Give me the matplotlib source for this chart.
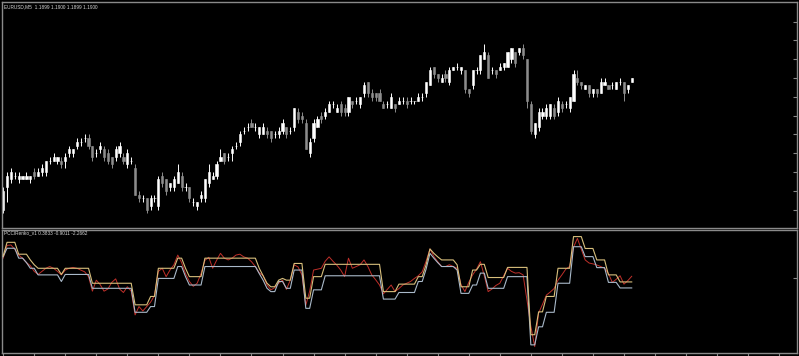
import numpy as np
import matplotlib

matplotlib.use("Agg")

import matplotlib.pyplot as plt

# EURUSD M5, 163 bars, 4-digit quotes
opens = [
    1.1865, 1.1871, 1.1873, 1.1874, 1.1873, 1.1873, 1.1873, 1.1873, 1.1875, 1.1874,
    1.1875, 1.1875, 1.1878, 1.1878, 1.1878, 1.1878, 1.1878, 1.1880, 1.1880, 1.1882,
    1.1883, 1.1884, 1.1884, 1.1882, 1.1880, 1.1881, 1.1881, 1.1880, 1.1879, 1.1879,
    1.1880, 1.1879, 1.1877, 1.1878, 1.1876, 1.1869, 1.1868, 1.1868, 1.1866, 1.1868,
    1.1866, 1.1874, 1.1873, 1.1871, 1.1871, 1.1872, 1.1874, 1.1871, 1.1871, 1.1867,
    1.1866, 1.1868, 1.1868, 1.1872, 1.1873, 1.1874, 1.1878, 1.1880, 1.1879, 1.1880,
    1.1882, 1.1883, 1.1886, 1.1887, 1.1888, 1.1887, 1.1885, 1.1885, 1.1886, 1.1886,
    1.1885, 1.1885, 1.1886, 1.1887, 1.1886, 1.1887, 1.1891, 1.1890, 1.1888, 1.1880,
    1.1884, 1.1887, 1.1890, 1.1890, 1.1891, 1.1893, 1.1891, 1.1893, 1.1892, 1.1891,
    1.1894, 1.1894, 1.1893, 1.1896, 1.1899, 1.1896, 1.1896, 1.1896, 1.1893, 1.1893,
    1.1892, 1.1893, 1.1893, 1.1894, 1.1894, 1.1894, 1.1894, 1.1894, 1.1895, 1.1896,
    1.1898, 1.1903, 1.1901, 1.1899, 1.1901, 1.1899, 1.1902, 1.1903, 1.1902, 1.1902,
    1.1897, 1.1898, 1.1902, 1.1902, 1.1905, 1.1906, 1.1902, 1.1902, 1.1902, 1.1903,
    1.1903, 1.1905, 1.1907, 1.1907, 1.1908, 1.1905, 1.1893, 1.1885, 1.1887, 1.1890,
    1.1890, 1.1890, 1.1892, 1.1891, 1.1893, 1.1893, 1.1892, 1.1894, 1.1900, 1.1899,
    1.1897, 1.1898, 1.1896, 1.1897, 1.1896, 1.1898, 1.1898, 1.1898, 1.1897, 1.1899,
    1.1899, 1.1897, 1.1899,
]
highs = [
    1.1871, 1.1875, 1.1876, 1.1875, 1.1875, 1.1874, 1.1875, 1.1874, 1.1876, 1.1876,
    1.1877, 1.1878, 1.1879, 1.1880, 1.1879, 1.1879, 1.1880, 1.1882, 1.1881, 1.1884,
    1.1884, 1.1885, 1.1885, 1.1882, 1.1881, 1.1883, 1.1882, 1.1881, 1.1879, 1.1882,
    1.1883, 1.1880, 1.1881, 1.1879, 1.1877, 1.1870, 1.1869, 1.1868, 1.1869, 1.1869,
    1.1874, 1.1875, 1.1873, 1.1872, 1.1874, 1.1877, 1.1875, 1.1872, 1.1871, 1.1868,
    1.1867, 1.1870, 1.1873, 1.1877, 1.1875, 1.1878, 1.1881, 1.1880, 1.1880, 1.1882,
    1.1883, 1.1886, 1.1887, 1.1888, 1.1889, 1.1888, 1.1887, 1.1888, 1.1887, 1.1886,
    1.1886, 1.1887, 1.1889, 1.1887, 1.1887, 1.1892, 1.1892, 1.1891, 1.1889, 1.1884,
    1.1889, 1.1890, 1.1891, 1.1892, 1.1894, 1.1894, 1.1893, 1.1894, 1.1893, 1.1895,
    1.1894, 1.1895, 1.1895, 1.1899, 1.1899, 1.1897, 1.1896, 1.1897, 1.1894, 1.1894,
    1.1896, 1.1893, 1.1895, 1.1895, 1.1895, 1.1895, 1.1894, 1.1896, 1.1896, 1.1899,
    1.1903, 1.1903, 1.1901, 1.1901, 1.1902, 1.1903, 1.1903, 1.1904, 1.1903, 1.1902,
    1.1897, 1.1902, 1.1903, 1.1906, 1.1909, 1.1907, 1.1903, 1.1902, 1.1904, 1.1904,
    1.1907, 1.1908, 1.1907, 1.1908, 1.1909, 1.1905, 1.1894, 1.1888, 1.1892, 1.1892,
    1.1893, 1.1893, 1.1893, 1.1895, 1.1894, 1.1894, 1.1895, 1.1902, 1.1902, 1.1899,
    1.1898, 1.1898, 1.1897, 1.1897, 1.1900, 1.1900, 1.1898, 1.1899, 1.1899, 1.1900,
    1.1899, 1.1898, 1.1900,
]
lows = [
    1.1864, 1.1867, 1.1872, 1.1873, 1.1872, 1.1873, 1.1873, 1.1872, 1.1873, 1.1874,
    1.1874, 1.1874, 1.1877, 1.1878, 1.1877, 1.1876, 1.1876, 1.1879, 1.1879, 1.1881,
    1.1882, 1.1883, 1.1881, 1.1878, 1.1879, 1.1880, 1.1878, 1.1877, 1.1876, 1.1878,
    1.1879, 1.1877, 1.1876, 1.1877, 1.1869, 1.1867, 1.1867, 1.1864, 1.1865, 1.1867,
    1.1865, 1.1871, 1.1869, 1.1870, 1.1870, 1.1872, 1.1870, 1.1870, 1.1867, 1.1866,
    1.1865, 1.1867, 1.1867, 1.1871, 1.1873, 1.1873, 1.1878, 1.1877, 1.1878, 1.1878,
    1.1881, 1.1882, 1.1885, 1.1886, 1.1887, 1.1886, 1.1884, 1.1885, 1.1884, 1.1883,
    1.1884, 1.1884, 1.1885, 1.1884, 1.1885, 1.1886, 1.1888, 1.1888, 1.1881, 1.1879,
    1.1883, 1.1887, 1.1888, 1.1889, 1.1891, 1.1892, 1.1891, 1.1890, 1.1890, 1.1890,
    1.1892, 1.1893, 1.1892, 1.1895, 1.1895, 1.1894, 1.1894, 1.1894, 1.1892, 1.1892,
    1.1892, 1.1891, 1.1893, 1.1893, 1.1892, 1.1893, 1.1893, 1.1894, 1.1894, 1.1895,
    1.1898, 1.1900, 1.1899, 1.1899, 1.1899, 1.1898, 1.1902, 1.1902, 1.1901, 1.1896,
    1.1895, 1.1897, 1.1901, 1.1901, 1.1905, 1.1900, 1.1901, 1.1900, 1.1902, 1.1902,
    1.1903, 1.1904, 1.1903, 1.1906, 1.1905, 1.1892, 1.1885, 1.1884, 1.1886, 1.1889,
    1.1889, 1.1889, 1.1889, 1.1890, 1.1891, 1.1892, 1.1891, 1.1894, 1.1898, 1.1897,
    1.1897, 1.1895, 1.1895, 1.1895, 1.1896, 1.1898, 1.1897, 1.1897, 1.1897, 1.1898,
    1.1894, 1.1896, 1.1899,
]
closes = [
    1.1870, 1.1874, 1.1875, 1.1874, 1.1874, 1.1874, 1.1874, 1.1874, 1.1874, 1.1875,
    1.1876, 1.1878, 1.1878, 1.1879, 1.1879, 1.1877, 1.1879, 1.1881, 1.1881, 1.1883,
    1.1883, 1.1884, 1.1882, 1.1879, 1.1880, 1.1882, 1.1879, 1.1878, 1.1877, 1.1881,
    1.1882, 1.1878, 1.1880, 1.1878, 1.1869, 1.1868, 1.1868, 1.1865, 1.1868, 1.1868,
    1.1873, 1.1872, 1.1870, 1.1872, 1.1873, 1.1875, 1.1871, 1.1871, 1.1868, 1.1867,
    1.1867, 1.1869, 1.1873, 1.1875, 1.1874, 1.1877, 1.1879, 1.1878, 1.1879, 1.1881,
    1.1882, 1.1885, 1.1886, 1.1887, 1.1887, 1.1887, 1.1887, 1.1887, 1.1885, 1.1884,
    1.1885, 1.1886, 1.1888, 1.1885, 1.1886, 1.1892, 1.1889, 1.1889, 1.1881, 1.1883,
    1.1888, 1.1889, 1.1889, 1.1891, 1.1893, 1.1893, 1.1892, 1.1891, 1.1891, 1.1895,
    1.1893, 1.1894, 1.1895, 1.1898, 1.1896, 1.1895, 1.1895, 1.1894, 1.1892, 1.1893,
    1.1895, 1.1892, 1.1894, 1.1894, 1.1893, 1.1894, 1.1894, 1.1895, 1.1895, 1.1899,
    1.1902, 1.1901, 1.1900, 1.1900, 1.1900, 1.1902, 1.1903, 1.1903, 1.1903, 1.1897,
    1.1896, 1.1902, 1.1902, 1.1906, 1.1907, 1.1900, 1.1902, 1.1901, 1.1903, 1.1904,
    1.1907, 1.1908, 1.1904, 1.1908, 1.1906, 1.1894, 1.1886, 1.1888, 1.1891, 1.1891,
    1.1892, 1.1893, 1.1890, 1.1894, 1.1892, 1.1893, 1.1895, 1.1901, 1.1899, 1.1898,
    1.1898, 1.1896, 1.1897, 1.1896, 1.1899, 1.1899, 1.1897, 1.1898, 1.1899, 1.1899,
    1.1896, 1.1898, 1.1900,
]

# PCCIRenko_v1 buffers
pcci = [
    4.5, 7.4, 7.5, 6.5, 5.2, 4.5, 3.5, 2.8, 1.5, 0.8,
    1.5, 2.2, 2.6, 2.2, 1.5, 0.7, 1.8, 2.2, 2.4, 2.2,
    1.8, 1.4, 0.3, -3.0, -0.5, -1.5, -3.0, -2.5, -1.0, -0.2,
    -2.5, -3.3, -2.0, -3.0, -8.4, -6.5, -7.5, -6.5, -5.5, -4.0,
    1.5, 2.2, 0.3, 1.8, 3.0, 5.2, 3.5, 1.0, -0.8, -1.9,
    -1.2, 1.0, 4.0, 4.7, 2.2, 4.0, 5.6, 4.5, 4.1, 4.5,
    5.2, 5.4, 4.8, 4.5, 3.7, 2.6, 1.2, 0.5, -1.6, -2.7,
    -2.2, -1.2, -0.5, -2.6, -0.5, 3.0, 2.5, 0.7, -6.2, -3.0,
    1.8, 2.0, 2.2, 3.8, 4.8, 3.8, 2.9, 1.8, 0.3, 4.5,
    2.2, 2.6, 3.0, 4.1, 2.6, 0.7, -0.4, -1.6, -3.6, -2.6,
    -1.6, -3.1, -2.4, -1.6, -1.2, -0.8, -0.1, 0.5, 1.4, 3.8,
    6.6, 4.9, 3.7, 2.6, 2.6, 3.0, 2.6, 2.2, -1.5, -3.1,
    -1.0, 0.7, 2.0, 3.7, 0.5, -3.1, -2.5, -1.7, -1.2, 0.5,
    2.2, 1.5, 1.1, 1.2, 0.7, -5.0, -11.0, -15.6, -8.0, -6.0,
    -3.9, -3.2, -2.4, -0.5, 0.7, 2.0, 2.6, 7.0, 9.0, 6.5,
    4.1, 3.4, 3.2, 2.95, 2.6, 2.2, 1.0, -1.0, -0.3, 0.5,
    -1.4, -0.6, 0.3833,
]
renko_up = [
    5.0, 8.1, 8.1, 8.1, 5.4, 5.4, 5.4, 4.1, 3.0, 2.2,
    2.2, 2.2, 2.2, 2.2, 2.2, 0.8, 2.2, 2.2, 2.2, 2.2,
    2.2, 2.2, 2.2, -1.2, -1.2, -1.2, -1.2, -1.2, -1.2, -1.2,
    -1.2, -1.2, -1.2, -1.2, -6.1, -6.1, -6.1, -6.1, -4.2, -4.2,
    2.2, 2.2, 2.2, 2.2, 2.2, 4.5, 4.5, 2.2, 0.3, 0.3,
    0.3, 0.3, 4.5, 4.5, 4.5, 4.5, 4.5, 4.5, 4.5, 4.5,
    4.5, 4.5, 4.5, 4.5, 4.5, 4.5, 2.2, 0.5, -1.2, -2.0,
    -2.0, -0.5, -0.1, -0.5, -0.5, 3.3, 3.3, 3.3, -4.6, -4.6,
    0.3, 0.3, 0.3, 3.1, 3.1, 3.1, 3.1, 3.1, 3.1, 3.1,
    3.1, 3.1, 3.1, 3.1, 3.1, 3.1, 3.1, 3.1, -3.1, -3.1,
    -3.1, -3.1, -1.4, -1.4, -1.4, -1.4, -1.4, 0.3, 0.3, 3.0,
    6.6, 5.6, 4.8, 4.1, 4.1, 4.1, 4.1, 3.0, -2.0, -2.0,
    -2.0, 1.8, 1.8, 3.1, 3.1, 0.1, 0.1, 0.1, 0.1, 0.1,
    2.4, 2.4, 2.4, 2.4, 2.4, 2.4, -12.9, -12.9, -7.7, -7.7,
    -4.2, -4.2, -4.2, 2.2, 2.2, 2.2, 2.2, 9.4, 9.4, 9.4,
    6.7, 6.7, 6.7, 4.1, 4.1, 4.1, 0.7, 0.7, 0.7, -0.9,
    -0.9, -0.9, -0.9011,
]
renko_dn = [
    4.85, 6.75, 6.75, 6.75, 4.5, 4.5, 3.5, 2.2, 2.2, 0.7,
    0.7, 0.7, 0.7, 0.7, 0.7, -0.8, 0.8, 0.8, 0.8, 0.8,
    0.8, 0.8, 0.8, -2.35, -2.35, -2.35, -2.35, -2.35, -2.35, -2.35,
    -2.35, -2.35, -2.35, -2.35, -7.8, -7.8, -7.8, -7.8, -6.5, -6.5,
    -0.1, -0.1, -0.1, -0.1, -0.1, 2.6, 2.6, 0.3, -1.6, -1.6,
    -1.6, -1.6, 2.6, 2.6, 2.6, 2.6, 2.6, 2.6, 2.6, 2.6,
    2.6, 2.6, 2.6, 2.6, 2.6, 2.6, 1.0, -0.5, -2.35, -3.1,
    -3.1, -0.8, -0.8, -2.35, -2.35, 1.8, 1.8, 1.8, -6.9, -6.9,
    -2.7, -2.7, -2.7, 0.5, 0.5, 0.5, 0.5, 0.5, 0.5, 0.5,
    0.5, 0.5, 0.5, 0.5, 0.5, 0.5, 0.5, 0.5, -4.8, -4.8,
    -4.8, -4.8, -3.3, -3.3, -3.3, -3.3, -3.3, -0.8, -0.8, 2.0,
    5.6, 4.5, 3.5, 2.6, 2.6, 2.6, 2.6, 1.8, -3.5, -3.5,
    -3.5, -1.6, -1.6, 1.1, 1.1, -2.35, -2.35, -2.35, -2.35, -2.35,
    0.3, 0.3, 0.3, 0.3, 0.3, 0.3, -15.2, -15.2, -11.1, -11.1,
    -7.8, -7.8, -7.8, -1.2, -1.2, -1.2, -1.2, 7.1, 7.1, 7.1,
    4.85, 4.85, 4.85, 2.35, 2.35, 2.35, -1.0, -1.0, -1.0, -2.27,
    -2.27, -2.27, -2.2662,
]

# Цвета в стиле терминала
BG = "black"
FRAME = "#8a8a8a"
BULL = "#ffffff"
BEAR = "#8c8c8c"

W, H = 799, 356
fig = plt.figure(figsize=(W / 100, H / 100), dpi=100, facecolor=BG)

left = 2 / W
width = 795 / W
ax1 = fig.add_axes([left, 1 - 228 / H, width, 226 / H], facecolor=BG)
ax2 = fig.add_axes([left, 1 - 353 / H, width, 123 / H], facecolor=BG)

o = np.array(opens)
h = np.array(highs)
l = np.array(lows)
c = np.array(closes)
x = np.arange(len(o))
colors = [BULL if cc >= oo else BEAR for oo, cc in zip(o, c)]

# Тени и тела свечей
ax1.vlines(x, l, h, colors=colors, linewidth=0.7)
ax1.bar(x, np.abs(c - o), bottom=np.minimum(o, c), width=0.55,
        color=colors, edgecolor=colors, linewidth=0.4)

ax1.set_xlim(-0.3, -0.3 + 795 / 3.88)
ax1.set_ylim(1.18601, 1.19202)

# Индикатор
ax2.plot(x, pcci, color="#c0302a", linewidth=0.7, zorder=2)
ax2.plot(x, renko_dn, color="#a9b9c9", linewidth=0.8, zorder=3)
ax2.plot(x, renko_up, color="#d8bf7c", linewidth=0.8, zorder=4)
ax2.set_xlim(-0.3, -0.3 + 795 / 3.88)
ax2.set_ylim(-17.05, 10.9)

for ax in (ax1, ax2):
    for s in ax.spines.values():
        s.set_color(FRAME)
        s.set_linewidth(1.0)
    ax.yaxis.tick_right()
    ax.tick_params(axis="y", direction="in", length=3, color=FRAME, labelright=False)
    ax.tick_params(axis="x", length=0, labelbottom=False)

ax1.set_yticks(np.arange(1.1865, 1.19151, 0.0005))
ax2.set_yticks([0])
ax2.set_xticks(np.arange(0, 205, 8))
ax2.tick_params(axis="x", direction="out", length=3, color=FRAME)

# Подписи окон: мелкий шрифт, как в терминале
fig.text(4 / W, 1 - 7 / H, "EURUSD,M5  1.1899 1.1900 1.1899 1.1900",
         fontsize=3.4, family="Liberation Sans", color="#d8d8d8", va="center", ha="left")
fig.text(4 / W, 1 - 233 / H, "PCCIRenko_v1 0.3833 -0.9011 -2.2662",
         fontsize=3.4, family="Liberation Sans", color="#d8d8d8", va="center", ha="left")

fig.savefig("out.png", dpi=100, facecolor=BG)
